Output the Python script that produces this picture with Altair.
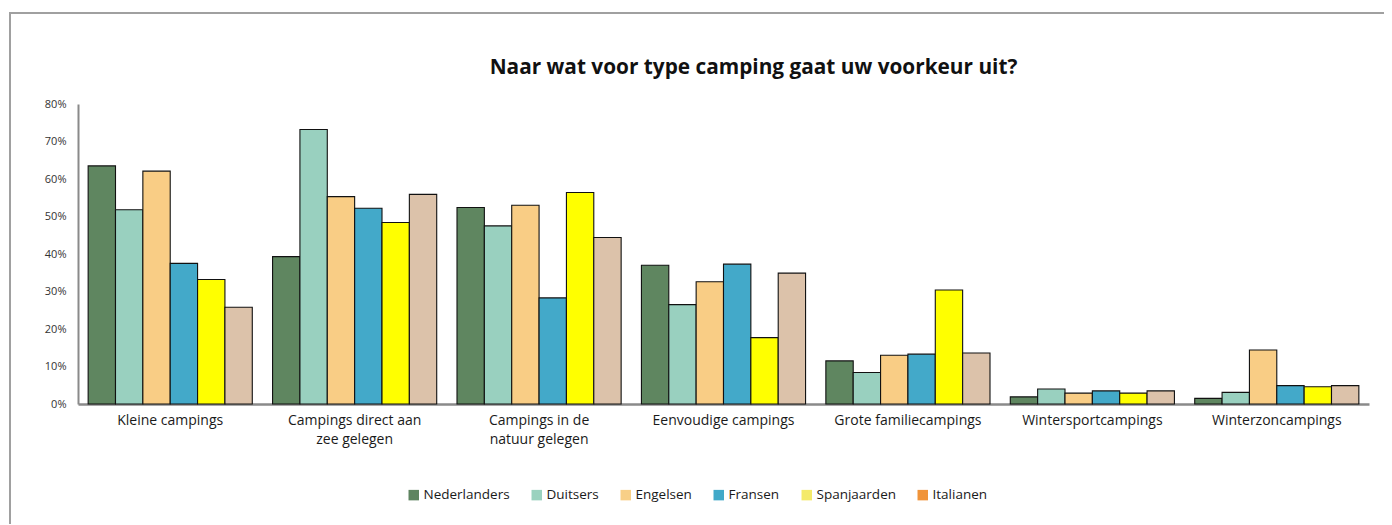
import altair as alt
import pandas as pd

categories = [
    "Kleine campings",
    "Campings direct aan\nzee gelegen",
    "Campings in de\nnatuur gelegen",
    "Eenvoudige campings",
    "Grote familiecampings",
    "Wintersportcampings",
    "Winterzoncampings",
]
series = ["Nederlanders", "Duitsers", "Engelsen", "Fransen", "Spanjaarden", "Italianen"]

nederlanders = [63.5, 39.3, 52.4, 37.0, 11.5, 1.9, 1.5]
duitsers = [51.8, 73.2, 47.5, 26.5, 8.4, 4.0, 3.1]
engelsen = [62.1, 55.3, 53.0, 32.6, 13.0, 2.9, 14.4]
fransen = [37.5, 52.2, 28.3, 37.3, 13.3, 3.5, 4.9]
spanjaarden = [33.2, 48.4, 56.4, 17.7, 30.4, 2.9, 4.6]
italianen = [25.8, 55.9, 44.4, 34.9, 13.6, 3.5, 4.9]
y_ticks = [0, 0.1, 0.2, 0.3, 0.4, 0.5, 0.6, 0.7, 0.8]

bar_colors = ["#5f8660", "#99d0bf", "#f9cd85", "#43a9c9", "#ffff00", "#dcc2aa"]
legend_colors = ["#5e8460", "#9ad2bf", "#f8cf87", "#41a9c9", "#f4ea6a", "#f0943a"]

values = [nederlanders, duitsers, engelsen, fransen, spanjaarden, italianen]
rows = []
for s, vals in zip(series, values):
    for c, v in zip(categories, vals):
        rows.append({"categorie": c, "land": s, "aandeel": v / 100})
df = pd.DataFrame(rows)

W, H = 1291, 300
FONT = "Open Sans"

x_enc = alt.X(
    "categorie:N",
    sort=categories,
    title=None,
    scale=alt.Scale(paddingInner=0.11, paddingOuter=0.055),
    axis=alt.Axis(
        labelAngle=0,
        labelExpr="split(datum.label, '\\n')",
        labelFontSize=14,
        labelFont=FONT,
        labelColor="#1a1a1a",
        labelPadding=9,
        labelLineHeight=19,
        ticks=False,
        domainColor="#8a8a8a",
        domainWidth=2.5,
        labelLimit=300,
    ),
)
xo_enc = alt.XOffset("land:N", sort=series, scale=alt.Scale(paddingInner=0, paddingOuter=0))
y_enc = alt.Y(
    "aandeel:Q",
    title=None,
    scale=alt.Scale(domain=[0, 0.8], nice=False),
    axis=alt.Axis(
        format=".0%",
        values=y_ticks,
        grid=False,
        ticks=False,
        labelOverlap=False,
        labelFlush=False,
        labelFontSize=11,
        labelFont=FONT,
        labelColor="#333333",
        labelPadding=12,
        domainColor="#8a8a8a",
        domainWidth=2,
    ),
)

bars = alt.Chart(df).mark_bar(stroke="#111111", strokeWidth=1.1).encode(
    x=x_enc,
    xOffset=xo_enc,
    y=y_enc,
    fill=alt.Fill("land:N", sort=series, scale=alt.Scale(domain=series, range=bar_colors), legend=None),
)

legend_layer = alt.Chart(df).mark_square(opacity=0, size=1).encode(
    x=x_enc,
    xOffset=xo_enc,
    y=y_enc,
    color=alt.Color(
        "land:N",
        sort=series,
        scale=alt.Scale(domain=series, range=legend_colors),
        legend=alt.Legend(
            title=None,
            orient="none",
            legendX=329,
            legendY=384,
            direction="horizontal",
            columns=6,
            symbolType="square",
            symbolSize=110,
            symbolOpacity=1,
            symbolStrokeWidth=0,
            labelFont=FONT,
            labelFontSize=13.5,
            labelColor="#1a1a1a",
            labelOffset=3,
            columnPadding=20,
        ),
    ),
)

frame = alt.Chart(pd.DataFrame({"f": [0]})).mark_rect(
    fill=None, stroke="#a0a0a0", strokeWidth=2
).encode(
    x=alt.value(-68),
    x2=alt.value(1307),
    y=alt.value(-91),
    y2=alt.value(440),
)

chart = (
    alt.layer(frame, bars, legend_layer)
    .resolve_scale(color="independent", fill="independent")
    .properties(
        width=W,
        height=H,
        background="white",
        autosize=alt.AutoSizeParams(type="none"),
        padding={"left": 70, "top": 96, "right": 15, "bottom": 120},
        title=alt.TitleParams(
            "Naar wat voor type camping gaat uw voorkeur uit?",
            font=FONT,
            fontSize=20.8,
            fontWeight="bold",
            color="#111111",
            anchor="middle",
            dx=30,
            offset=-67,
        ),
    )
    .configure_view(stroke="transparent", strokeWidth=0)
)

chart.save("out.html", embed_options={"renderer": "svg", "actions": False})
